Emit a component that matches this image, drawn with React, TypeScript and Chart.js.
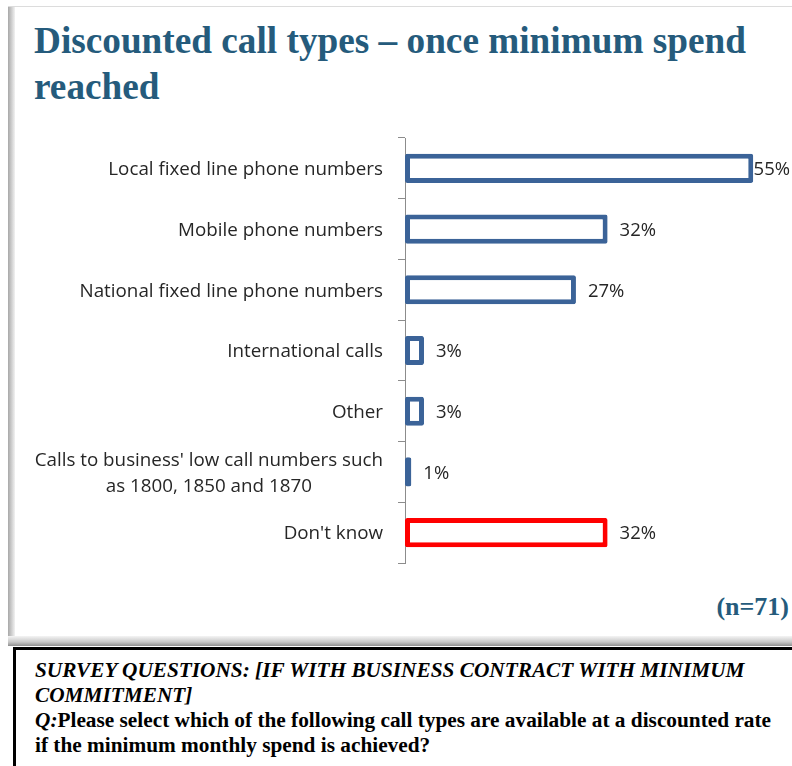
import React, { useEffect, useRef } from "react";
import { Chart, registerables } from "chart.js";

Chart.register(...registerables);

const categories: (string | string[])[] = [
  "Local fixed line phone numbers",
  "Mobile phone numbers",
  "National fixed line phone numbers",
  "International calls",
  "Other",
  ["Calls to business' low call numbers such", "as 1800, 1850 and 1870"],
  "Don't know",
];
const values = [55, 32, 27, 3, 3, 1, 32];
const valueLabels = values.map((v) => v + "%");
const barColors = ["#3B6398", "#3B6398", "#3B6398", "#3B6398", "#3B6398", "#3B6398", "#FF0000"];

const LABEL_FONT = "18.8px 'Open Sans'";
const VALUE_FONT = "18.5px 'Open Sans'";
const LABEL_COLOR = "#262626";

const labelPlugin = {
  id: "customLabels",
  afterDatasetsDraw(chart: any) {
    const ctx = chart.ctx;
    const yScale = chart.scales.y;
    const meta = chart.getDatasetMeta(0);
    ctx.save();
    ctx.font = LABEL_FONT;
    ctx.fillStyle = LABEL_COLOR;
    ctx.textBaseline = "middle";
    const xr = yScale.right - 7 - 15;
    categories.forEach((c, i) => {
      const cy = yScale.getPixelForValue(i) + 1.5;
      const lines = Array.isArray(c) ? c : [c];
      const widths = lines.map((l) => ctx.measureText(l).width);
      const maxW = Math.max(...widths);
      const lh = 26;
      lines.forEach((l, j) => {
        const ly = cy + (j - (lines.length - 1) / 2) * lh;
        ctx.textAlign = "center";
        ctx.fillText(l, xr - maxW / 2, ly);
      });
    });
    ctx.font = VALUE_FONT;
    meta.data.forEach((bar: any, i: number) => {
      const t = valueLabels[i];
      const w = ctx.measureText(t).width;
      let x = bar.x + 12;
      x = Math.min(x, chart.width - w - 2);
      ctx.textAlign = "left";
      ctx.fillText(t, x, bar.y + 1.5);
    });
    ctx.restore();
  },
};

function BarChart() {
  const ref = useRef<HTMLCanvasElement | null>(null);
  useEffect(() => {
    if (!ref.current) return;
    const chart = new Chart(ref.current, {
      type: "bar",
      data: {
        labels: categories as any,
        datasets: [
          {
            data: values,
            backgroundColor: "#ffffff",
            borderColor: barColors,
            borderWidth: 5,
            borderRadius: 2,
            borderSkipped: false,
            barPercentage: 0.48,
            categoryPercentage: 1,
          },
        ],
      },
      options: {
        indexAxis: "y",
        responsive: false,
        animation: false,
        layout: { padding: { top: 8, bottom: 27, right: 9, left: 0 } },
        plugins: { legend: { display: false }, tooltip: { enabled: false } },
        scales: {
          x: { display: false, min: 0, max: 59.7 },
          y: {
            type: "category",
            ticks: { display: false },
            grid: {
              offset: true,
              drawOnChartArea: false,
              drawTicks: true,
              tickLength: 7,
              color: "#8c8c8c",
            },
            border: { color: "#8c8c8c", width: 1 },
            afterFit: (s: any) => {
              s.width = 395;
            },
          },
        },
      },
      plugins: [labelPlugin],
    } as any);
    return () => chart.destroy();
  }, []);
  return <canvas ref={ref} width={782} height={460} style={{ position: "absolute", left: 10, top: 130 }} />;
}

export default function App() {
  const titleColor = "#255B7C";
  return (
    <div style={{ position: "absolute", left: 0, top: 0, width: 792, height: 766, overflow: "hidden", background: "#fff" }}>
      {/* panel */}
      <div style={{ position: "absolute", left: 8, top: 6, width: 800, height: 640, background: "#fff", borderTop: "1px solid #dcdcdc" }} />
      <div style={{ position: "absolute", left: 8, top: 7, width: 7, height: 632, background: "linear-gradient(to right, #a8a8a8, #f2f2f2)" }} />
      <div style={{ position: "absolute", left: 8, top: 636, width: 800, height: 10, background: "linear-gradient(to bottom, #f4f4f4, #c8c8c8 60%, #8f8f8f)" }} />
      <div
        style={{
          position: "absolute",
          left: 34,
          top: 17.5,
          fontFamily: "'Liberation Serif', serif",
          fontWeight: "bold",
          fontSize: 37.25,
          lineHeight: "46px",
          color: titleColor,
          width: 740,
          whiteSpace: "nowrap",
        }}
      >
        Discounted call types – once minimum spend
        <br />
        reached
      </div>
      <BarChart />
      <div
        style={{
          position: "absolute",
          right: 3,
          top: 592,
          fontFamily: "'Liberation Serif', serif",
          fontWeight: "bold",
          fontSize: 26,
          lineHeight: "30px",
          color: titleColor,
        }}
      >
        (n=71)
      </div>
      {/* survey box */}
      <div style={{ position: "absolute", left: 13, top: 647, width: 800, height: 140, border: "3px solid #000", boxSizing: "border-box" }} />
      <div
        style={{
          position: "absolute",
          left: 35,
          top: 658.4,
          fontFamily: "'Liberation Serif', serif",
          fontWeight: "bold",
          fontSize: 21.3,
          lineHeight: "25px",
          color: "#000",
          whiteSpace: "nowrap",
        }}
      >
        <i>SURVEY QUESTIONS: [IF WITH BUSINESS CONTRACT WITH MINIMUM</i>
        <br />
        <i>COMMITMENT]</i>
        <br />
        <i>Q:</i>Please select which of the following call types are available at a discounted rate
        <br />
        if the minimum monthly spend is achieved?
      </div>
    </div>
  );
}
